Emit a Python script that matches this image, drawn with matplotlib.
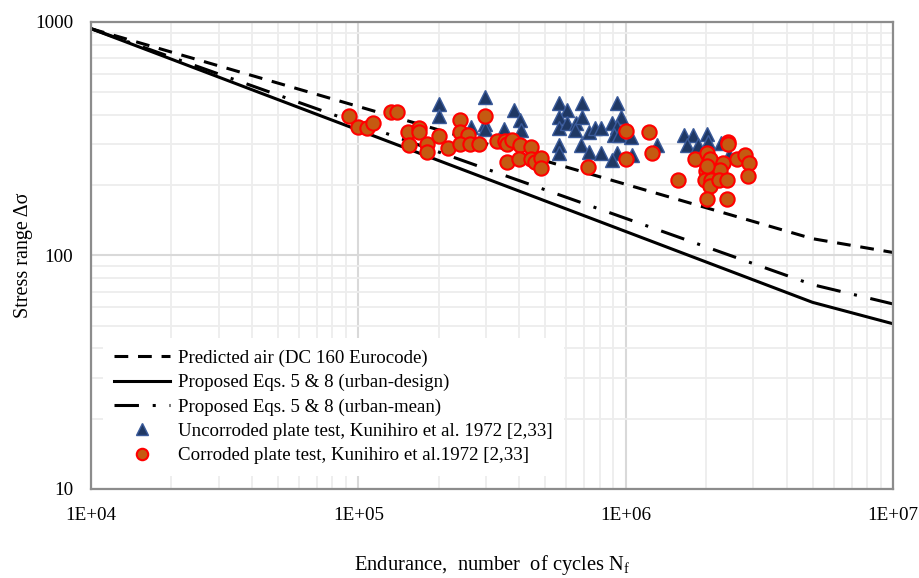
import matplotlib
matplotlib.use("Agg")
import matplotlib.pyplot as plt
from matplotlib.ticker import FixedLocator, LogLocator, NullFormatter
import numpy as np

plt.rcParams['font.family'] = ['Liberation Serif', 'DejaVu Serif']

# S-N curves (cycles, stress range)
n_air = [1e4, 5e6, 1e7]
s_air = [936, 118, 103]
n_design = [1e4, 5e6, 1e7]
s_design = [936, 63, 51]
n_mean = [1e4, 5e6, 1e7]
s_mean = [936, 75, 62]

# Kunihiro et al. 1972 - uncorroded plates
n_uncorr = [2.0e5, 2.0e5, 2.63e5, 2.99e5, 2.99e5, 2.99e5, 3.5e5, 3.81e5, 4.01e5, 4.06e5,
            5.63e5, 6.05e5, 5.63e5, 5.63e5, 6.05e5, 6.5e5, 6.44e5, 6.88e5, 6.88e5, 7.29e5,
            7.67e5, 8.06e5, 5.63e5, 5.63e5, 6.82e5, 7.29e5, 8.06e5, 9.31e5, 9.64e5, 8.92e5,
            9.31e5, 9.04e5, 9.44e5, 1.044e6, 9.31e5, 8.92e5, 1.06e6, 1.31e6, 1.65e6, 1.78e6,
            2.02e6, 1.69e6, 1.86e6, 2.03e6, 2.27e6, 2.44e6, 2.02e6]
s_uncorr = [444, 394, 356, 475, 366, 348, 349, 420, 380, 346,
            448, 420, 393, 351, 368, 368, 345, 448, 393, 339,
            351, 351, 297, 274, 297, 278, 274, 448, 393, 368,
            356, 328, 328, 323, 274, 256, 269, 297, 328, 328,
            330, 297, 297, 307, 302, 269, 244]

# Kunihiro et al. 1972 - corroded plates
n_corr = [9.2e4, 1.0e5, 1.08e5, 1.13e5, 1.32e5, 1.4e5, 1.53e5, 1.68e5, 1.68e5, 1.55e5,
          1.81e5, 1.81e5, 2.0e5, 2.17e5, 2.41e5, 2.41e5, 2.58e5, 2.41e5, 2.61e5, 2.82e5,
          2.97e5, 3.29e5, 3.55e5, 3.6e5, 3.6e5, 3.77e5, 4.04e5, 4.41e5, 3.99e5, 4.41e5,
          4.6e5, 4.83e5, 4.83e5, 7.23e5, 1.006e6, 1.006e6, 1.22e6, 1.25e6, 1.57e6, 1.82e6,
          2.02e6, 2.07e6, 2.42e6, 2.42e6, 2.31e6, 2.62e6, 2.8e6, 2.9e6, 2.88e6, 1.99e6,
          2.13e6, 2.26e6, 1.98e6, 2.08e6, 2.07e6, 2.23e6, 2.4e6, 2.02e6, 2.4e6, 2.02e6]
s_corr = [396, 356, 351, 370, 411, 411, 339, 353, 339, 297,
          299, 277, 325, 290, 381, 339, 328, 299, 299, 299,
          396, 309, 309, 299, 251, 312, 297, 292, 259, 259,
          251, 261, 236, 240, 342, 259, 339, 274, 211, 258,
          276, 258, 306, 299, 248, 258, 270, 250, 218, 229,
          227, 232, 210, 210, 199, 210, 210, 174, 174, 242]

x_ticks = [1e4, 1e5, 1e6, 1e7]
x_ticklabels = ['1E+04', '1E+05', '1E+06', '1E+07']
y_ticks = [10, 100, 1000]
y_ticklabels = ['10', '100', '1000']

fig = plt.figure(figsize=(9.19, 5.78), dpi=100)
ax = fig.add_axes([0.099, 0.154, 0.8727, 0.808])

ax.plot(n_air, s_air, color='black', lw=2.2, dashes=(4.5, 3.2),
        label='Predicted air (DC 160 Eurocode)')
ax.plot(n_design, s_design, color='black', lw=2.2,
        label='Proposed Eqs. 5 & 8 (urban-design)')
ax.plot(n_mean, s_mean, color='black', lw=2.2, dashes=(8, 4.5, 1, 4.5),
        label='Proposed Eqs. 5 & 8 (urban-mean)')
ax.plot(n_uncorr, s_uncorr, ls='none', marker='^', ms=10.5, mfc='#1F3864',
        mec='#3A5A9A', mew=1.0,
        label='Uncorroded plate test, Kunihiro et al. 1972 [2,33]')
ax.plot(n_corr, s_corr, ls='none', marker='o', ms=10.3, mfc='#C55A11',
        mec='#FF0000', mew=1.5,
        label='Corroded plate test, Kunihiro et al.1972 [2,33]')

ax.set_xscale('log')
ax.set_yscale('log')
ax.set_xlim(1e4, 1e7)
ax.set_ylim(10, 1000)

ax.xaxis.set_major_locator(FixedLocator(x_ticks))
ax.set_xticklabels(x_ticklabels)
ax.yaxis.set_major_locator(FixedLocator(y_ticks))
ax.set_yticklabels(y_ticklabels)
ax.xaxis.set_minor_locator(LogLocator(base=10, subs=np.arange(2, 10)))
ax.yaxis.set_minor_locator(LogLocator(base=10, subs=np.arange(2, 10)))
ax.xaxis.set_minor_formatter(NullFormatter())
ax.yaxis.set_minor_formatter(NullFormatter())
ax.tick_params(which='both', length=0, labelsize=13.8)
ax.tick_params(axis='x', pad=13)
ax.tick_params(axis='y', pad=13)

ax.grid(which='major', color='#D9D9D9', lw=1.5)
ax.grid(which='minor', color='#EDEDED', lw=1.3)
ax.set_axisbelow(True)
for sp in ax.spines.values():
    sp.set_color('#8C8C8C')
    sp.set_linewidth(1.6)

ax.set_ylabel('Stress range Δσ', fontsize=14.5, labelpad=1.5)
ax.set_xlabel('Endurance,  number  of cycles N$_\\mathregular{f}$', fontsize=14.8, labelpad=21)

leg = ax.legend(loc='lower left', bbox_to_anchor=(0.003, 0.008), frameon=True,
                fontsize=13.6, handlelength=2.95, handletextpad=0.42,
                labelspacing=0.38, borderpad=0.6, markerscale=0.8)
leg.get_frame().set_facecolor('white')
leg.get_frame().set_edgecolor('none')
leg.get_frame().set_alpha(1.0)

fig.savefig('out.png', dpi=100)
